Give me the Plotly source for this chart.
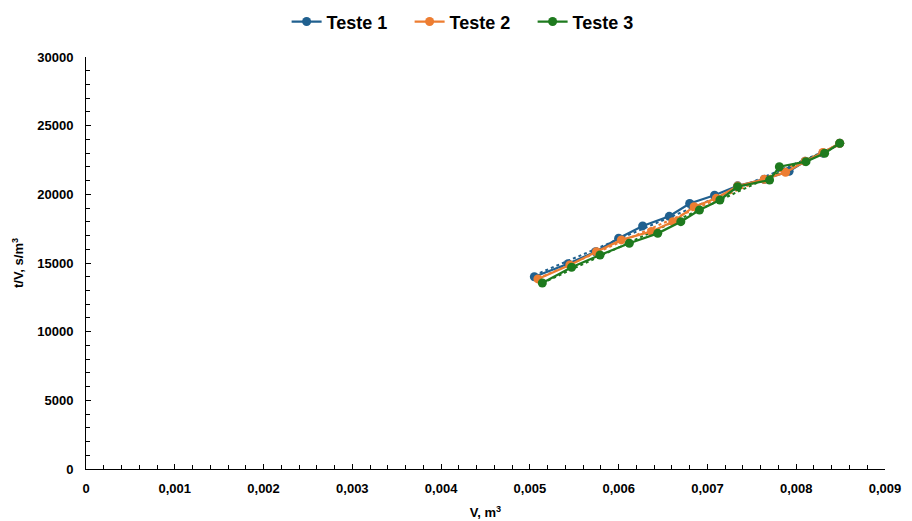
import numpy as np
import plotly.graph_objects as go

# ---- data ----
series_names = ["Teste 1", "Teste 2", "Teste 3"]

v_teste1 = [0.00505, 0.00543, 0.00574, 0.00600, 0.00627, 0.00657, 0.00680,
            0.00708, 0.00734, 0.00764, 0.00792, 0.00810, 0.00830, 0.00849]
tv_teste1 = [14000, 14950, 15820, 16800, 17700, 18400, 19330,
             19930, 20620, 21100, 21680, 22400, 23000, 23720]

v_teste2 = [0.00509, 0.00545, 0.00575, 0.00603, 0.00637, 0.00661, 0.00685,
            0.00710, 0.00734, 0.00764, 0.00788, 0.00810, 0.00830, 0.00849]
tv_teste2 = [13840, 14860, 15820, 16680, 17300, 18010, 19100,
             19710, 20600, 21100, 21600, 22400, 23050, 23720]

v_teste3 = [0.00514, 0.00547, 0.00579, 0.00612, 0.00644, 0.00670, 0.00691,
            0.00714, 0.00734, 0.00770, 0.00781, 0.00811, 0.00832, 0.00849]
tv_teste3 = [13540, 14690, 15580, 16440, 17160, 18010, 18860,
             19590, 20560, 21040, 22010, 22380, 22990, 23720]

x_tick_values = [0, 0.001, 0.002, 0.003, 0.004, 0.005, 0.006, 0.007, 0.008, 0.009]
x_tick_labels = ["0", "0,001", "0,002", "0,003", "0,004", "0,005", "0,006",
                 "0,007", "0,008", "0,009"]
y_tick_values = [0, 5000, 10000, 15000, 20000, 25000, 30000]

colors = ["#20608F", "#ED7D31", "#1E7A1E"]

fig = go.Figure()

data = [(v_teste1, tv_teste1), (v_teste2, tv_teste2), (v_teste3, tv_teste3)]

# dotted linear trendlines (computed from the data)
for (xs, ys), c in zip(data, colors):
    k, b = np.polyfit(xs, ys, 1)
    xr = np.array([min(xs), max(xs)])
    fig.add_trace(go.Scatter(x=xr, y=k * xr + b, mode="lines",
                             line=dict(color=c, width=2, dash="dot"),
                             showlegend=False, hoverinfo="skip"))

for (xs, ys), c, name in zip(data, colors, series_names):
    fig.add_trace(go.Scatter(x=xs, y=ys, mode="lines+markers", name=name,
                             line=dict(color=c, width=2.25),
                             marker=dict(color=c, size=9)))

FAM = "Liberation Sans, Arial, sans-serif"
axis_font = dict(family=FAM, size=13, color="#000000", weight="bold")

# the page body adds an 8 px offset, so the figure is 8 px smaller
fig.update_layout(
    width=904, height=513,
    paper_bgcolor="white", plot_bgcolor="white",
    margin=dict(l=78, r=27, t=49, b=52, autoexpand=False),
    font=dict(family=FAM, color="#000000"),
    legend=dict(orientation="h", x=0.482, xanchor="center", y=0.973, yanchor="middle",
                yref="container", itemwidth=30, entrywidth=78,
                font=dict(size=18, family=FAM, weight="bold", color="#000000"),
                traceorder="normal"),
    xaxis=dict(range=[0, 0.009], tickvals=x_tick_values, ticktext=x_tick_labels,
               automargin=False, ticklabelstandoff=7,
               showgrid=False, zeroline=False, showline=True, linecolor="#000000",
               linewidth=1, ticks="inside", ticklen=5, tickcolor="#000000",
               minor=dict(ticks="inside", ticklen=4, dtick=0.0002, tickcolor="#000000"),
               tickfont=axis_font,
               title=dict(text="V, m<sup>3</sup>",
                          font=dict(size=13, family=FAM, weight="bold"), standoff=13)),
    yaxis=dict(range=[0, 30000], tickvals=y_tick_values, tickformat="d",
               automargin=False, ticklabelstandoff=9,
               showgrid=False, zeroline=False, showline=True, linecolor="#000000",
               linewidth=1, ticks="inside", ticklen=5, tickcolor="#000000",
               minor=dict(ticks="inside", ticklen=4, dtick=1000, tickcolor="#000000"),
               tickfont=axis_font,
               title=dict(text="t/V, s/m<sup>3</sup>",
                          font=dict(size=13, family=FAM, weight="bold"), standoff=10)),
)

fig.write_html("out.html")
